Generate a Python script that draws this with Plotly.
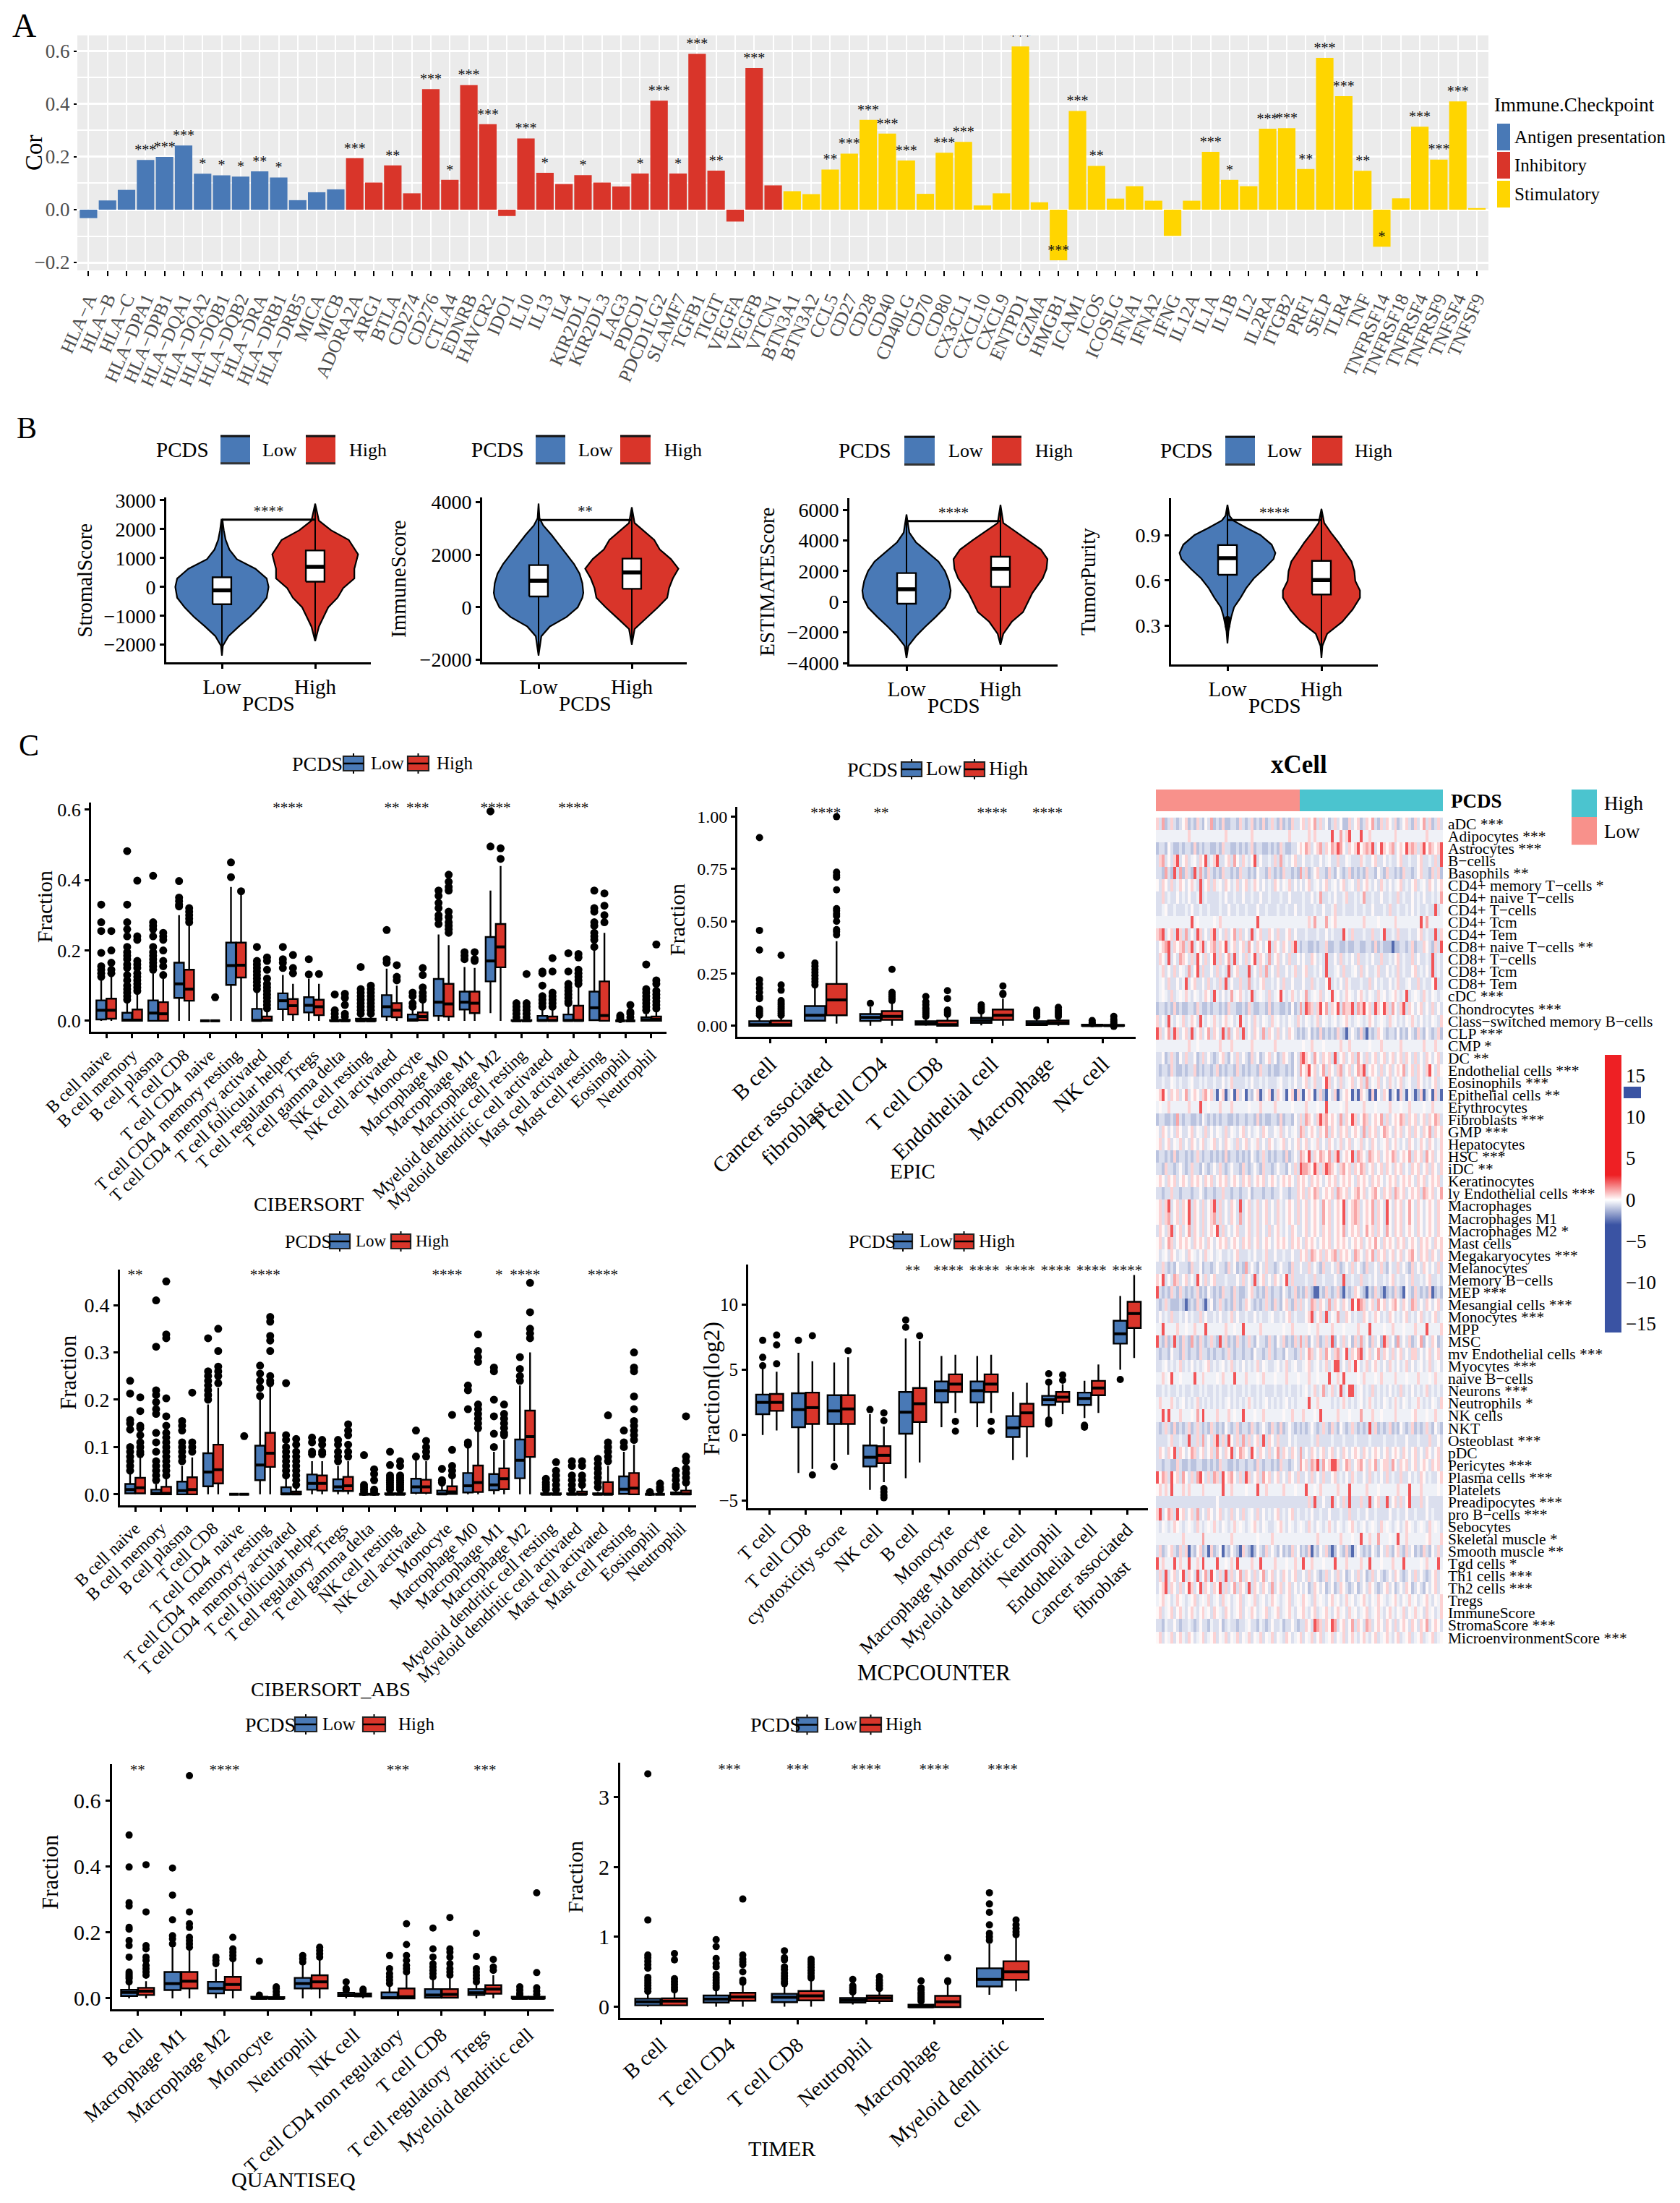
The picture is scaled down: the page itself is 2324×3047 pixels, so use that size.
import plotly.graph_objects as go

W, H = 2324, 3047
FONT = "Liberation Serif"
BLUE, RED, GOLD = "#4979b6", "#d9352a", "#ffd500"

# ---------------------------------------------------------------- panel A data
A_GENES = ["HLA−A","HLA−B","HLA−C","HLA−DPA1","HLA−DPB1","HLA−DQA1","HLA−DQA2","HLA−DQB1","HLA−DQB2","HLA−DRA","HLA−DRB1","HLA−DRB5","MICA","MICB",
 "ADORA2A","ARG1","BTLA","CD274","CD276","CTLA4","EDNRB","HAVCR2","IDO1","IL10","IL13","IL4","KIR2DL1","KIR2DL3","LAG3","PDCD1","PDCD1LG2","SLAMF7","TGFB1","TIGIT","VEGFA","VEGFB","VTCN1",
 "BTN3A1","BTN3A2","CCL5","CD27","CD28","CD40","CD40LG","CD70","CD80","CX3CL1","CXCL10","CXCL9","ENTPD1","GZMA","HMGB1","ICAM1","ICOS","ICOSLG","IFNA1","IFNA2","IFNG","IL12A","IL1A","IL1B","IL2","IL2RA","ITGB2","PRF1","SELP","TLR4","TNF","TNFRSF14","TNFRSF18","TNFRSF4","TNFRSF9","TNFSF4","TNFSF9"]
A_VALUES = [-0.032,0.035,0.075,0.188,0.200,0.243,0.136,0.130,0.125,0.145,0.122,0.036,0.066,0.077,
 0.195,0.103,0.168,0.062,0.457,0.113,0.472,0.324,-0.024,0.270,0.140,0.097,0.131,0.103,0.088,0.137,0.413,0.137,0.590,0.148,-0.045,0.537,0.092,
 0.070,0.059,0.152,0.212,0.340,0.288,0.186,0.060,0.216,0.257,0.016,0.062,0.618,0.028,-0.192,0.374,0.166,0.042,0.089,0.034,-0.099,0.034,0.219,0.113,0.089,0.307,0.309,0.154,0.575,0.430,0.147,-0.140,0.043,0.314,0.190,0.410,0.006]
A_STARS = ["","","","***","***","***","*","*","*","**","*","","","",
 "***","","**","","***","*","***","***","","***","*","","*","","","*","***","*","***","**","","***","",
 "","","**","***","***","***","***","","***","***","","","***","","***","***","**","","","","","","***","*","","***","***","**","***","***","**","*","","***","***","***",""]
A_GROUP_SIZES = [14, 23, 37]
A_GROUP_NAMES = ["Antigen presentation", "Inhibitory", "Stimulatory"]

# ---------------------------------------------------------------- panel B data (violin outline: value, half width in category units)
SV_L_Y = [-2375,-2040,-1708,-1375,-1040,-708,-375,0,290,625,958,1290,1625,1958,2330]
SV_L_W = [0,.01,.07,.18,.30,.40,.48,.50,.48,.36,.16,.08,.04,.02,.005]
SV_H_Y = [-1875,-1375,-1040,-708,-375,-42,290,625,1125,1625,1958,2290,2875]
SV_H_W = [0,.04,.09,.14,.24,.30,.42,.42,.46,.36,.17,.04,0]
SV_BOX = [[-600,-120,330],[180,690,1260]]
IM_L_Y = [-1835,-1100,-734,-367,0,367,550,917,1284,1651,2018,2385,2752,3119,3394,3945]
IM_L_W = [0,.03,.12,.30,.42,.47,.48,.47,.44,.38,.30,.22,.14,.05,.01,0]
IM_H_Y = [-1422,-826,-459,0,367,734,1101,1468,1835,2202,2569,2936,3211,3807]
IM_H_W = [0,.03,.14,.28,.38,.40,.44,.50,.42,.30,.24,.12,.03,0]
IM_BOX = [[413,1009,1606],[706,1330,1853]]
ES_L_Y = [-3669,-2882,-2252,-1622,-992,-362,268,740,1370,2000,2630,3260,3890,4520,5701]
ES_L_W = [0,.02,.10,.20,.31,.41,.46,.47,.45,.41,.34,.22,.10,.03,0]
ES_H_Y = [-2803,-2094,-1307,-677,-47,583,1528,2157,2787,3417,4047,4677,5150,6331]
ES_H_W = [0,.03,.12,.24,.29,.34,.45,.49,.50,.43,.29,.14,.03,0]
ES_BOX = [[-126,819,1874],[976,2157,2945]]
TP_L_Y = [.181,.261,.357,.422,.486,.55,.614,.678,.743,.783,.839,.903,.951,1.0,1.032,1.104]
TP_L_W = [0,.01,.04,.07,.14,.20,.28,.39,.49,.51,.47,.35,.20,.06,.02,0]
TP_H_Y = [.085,.165,.245,.325,.406,.486,.534,.598,.662,.727,.791,.855,.919,.983,1.077]
TP_H_W = [0,.01,.06,.22,.33,.41,.41,.36,.35,.32,.25,.18,.10,.03,0]
TP_BOX = [[.638,.749,.836],[.507,.603,.731]]
TP_L_OUT = [.30,.315,.33,.345]

# ---------------------------------------------------------------- panel C box data: [lower, q1, median, q3, upper]
CIB_CATS = ["B cell naive","B cell memory","B cell plasma","T cell CD8","T cell CD4\u00a0 naive","T cell CD4\u00a0 memory resting","T cell CD4\u00a0 memory activated","T cell follicular helper","T cell regulatory\u00a0 Tregs","T cell gamma delta","NK cell resting","NK cell activated","Monocyte","Macrophage M0","Macrophage M1","Macrophage M2","Myeloid dendritic cell resting","Myeloid dendritic cell activated","Mast cell activated","Mast cell resting","Eosinophil","Neutrophil"]
CIB_LOW = [[0,.004,.03,.058,.118],[0,0,.002,.023,.055],[0,0,.022,.058,.135],[0,.065,.105,.165,.30],[0,0,0,0,0],[0,.102,.157,.222,.38],[0,0,.001,.034,.08],[0,.033,.057,.078,.13],[0,.024,.044,.067,.12],[0,0,0,.002,.005],[0,0,0,.006,.015],[0,.012,.04,.073,.148],[0,0,.003,.018,.04],[0,.014,.053,.119,.245],[0,.032,.053,.083,.153],[.022,.112,.17,.238,.37],[0,0,0,.002,.004],[0,0,.001,.014,.03],[0,0,.001,.018,.04],[0,.002,.037,.083,.20],[0,0,0,0,0],[0,0,.003,.01,.02]]
CIB_HIGH = [[0,.006,.03,.063,.125],[0,0,.002,.032,.078],[0,0,.02,.053,.12],[0,.057,.09,.145,.27],[0,0,0,0,0],[0,.123,.158,.222,.36],[0,0,.002,.012,.03],[0,.018,.043,.062,.105],[0,.016,.04,.06,.105],[0,0,0,.003,.006],[0,0,0,.006,.015],[0,.01,.03,.05,.10],[0,.002,.012,.024,.05],[0,.012,.048,.105,.215],[0,.022,.05,.083,.15],[0,.152,.21,.275,.44],[0,0,0,.002,.004],[0,0,.001,.012,.03],[0,0,.001,.043,.10],[0,0,.015,.112,.25],[0,0,0,0,.002],[0,0,.004,.012,.025]]
CIB_LOW_OUT = [[.33,.28,.255,.193,.155,.145,.135,.125],[.482,.33,.28,.26,.24,.21,.195,.185,.175,.16,.15,.13,.115,.10,.09,.08,.07,.06],[.412,.28,.27,.26,.24,.21,.195,.185,.175,.165,.155,.145],[.397,.35,.34,.33,.325],[],[.45,.408],[.21,.17,.16,.15,.14,.13,.12,.11,.10,.09],[.21,.175,.165,.15],[.175,.132],[.075,.03,.02,.01],[.153,.09,.08,.07,.06,.05,.04,.03,.02],[.258,.175,.165],[.08,.07,.05,.04],[.37,.355,.335,.32,.30,.29,.275],[.195,.185,.175],[.595,.495],[.05,.04,.03,.02,.01],[.14,.135,.10,.07,.06,.05,.04],[.192,.14,.105,.095,.085,.075,.065,.055,.05],[.37,.32,.31,.28,.27,.25,.24,.23,.21],[.015,.01,.005],[.16,.09,.08,.07,.06,.05,.04,.03]]
CIB_HIGH_OUT = [[.255,.20,.165,.145,.135],[.398,.24,.23,.17,.16,.15,.135,.125,.115,.105,.095,.085],[.25,.24,.23,.20,.17,.155,.13],[.32,.31,.30,.29,.28],[.067],[.368],[.18,.17,.145,.12,.105,.095,.085,.075,.065,.055,.045,.035],[.187,.15,.135],[.133],[.077,.065,.045,.02,.012],[.10,.09,.08,.07,.06,.05,.04,.03,.02],[.158,.125,.115],[.15,.13,.095,.08,.07,.06],[.415,.395,.38,.37,.31,.295,.28,.27,.26,.25],[.195,.175,.17],[.49,.46],[.133,.05,.04,.03,.02,.01],[.178,.14,.08,.07,.06,.05,.04],[.19,.18,.145,.135,.125,.115,.105],[.362,.327,.30,.28],[.045,.025,.02,.01],[.217,.115,.105,.085,.075,.065,.055,.045,.035]]
CIB_STAR_AT = [7,11,12,15,18]
CIB_STAR_TXT = ["****","**","***","****","****"]

NB = "\u00a0"
EPIC_CATS = ["B cell","Cancer associated<br>fibroblast"+NB*6,"T cell CD4","T cell CD8","Endothelial cell","Macrophage","NK cell"]
EPIC_LOW = [[0,0,.005,.022,.04],[.02,.024,.05,.094,.18],[0,.023,.04,.056,.09],[0,.005,.012,.022,.035],[.002,.014,.025,.038,.06],[.002,.003,.01,.022,.035],[0,0,.001,.005,.007]]
EPIC_HIGH = [[0,0,.005,.024,.045],[.01,.05,.124,.20,.405],[0,.028,.045,.07,.11],[0,0,.005,.024,.045],[0,.028,.05,.078,.13],[0,.008,.014,.025,.04],[0,0,.001,.004,.006]]
EPIC_LOW_OUT = [[.90,.456,.362,.22,.20,.18,.16,.14,.13,.08,.07,.06,.05],[.30,.285,.27,.255,.24,.225,.21,.195],[.107],[.14,.115,.10,.085,.075,.065,.055,.045],[.10,.09,.08,.07],[.075,.065,.055,.045],[.025,.015,.01]]
EPIC_HIGH_OUT = [[.337,.195,.17,.12,.11,.10,.09,.08,.07,.06,.05],[1.0,.735,.72,.71,.65,.56,.55,.535,.525,.50,.46,.45,.435],[.27,.16,.15,.14,.13,.12],[.168,.13,.075,.065,.055],[.19,.155,.15],[.088,.075,.065,.055,.045],[.045,.03,.02,.01,-.003]]
EPIC_STAR_AT = [1,2,4,5]
EPIC_STAR_TXT = ["****","**","****","****"]

ABS_CATS = CIB_CATS
ABS_LOW = [[0,.002,.01,.022,.045],[0,0,.002,.01,.022],[0,0,.008,.027,.06],[0,.017,.047,.087,.19],[0,0,0,0,0],[0,.03,.062,.103,.20],[0,0,.001,.015,.035],[0,.01,.023,.042,.07],[0,.007,.016,.032,.06],[0,0,0,0,.001],[0,0,0,.002,.005],[0,.003,.016,.033,.075],[0,0,.001,.008,.02],[0,.004,.018,.045,.10],[0,.009,.02,.043,.09],[0,.034,.072,.116,.23],[0,0,0,.002,.004],[0,0,0,.002,.005],[0,0,0,.002,.005],[0,.001,.011,.038,.09],[0,0,0,0,0],[0,0,.001,.004,.01]]
ABS_HIGH = [[0,.002,.014,.035,.078],[0,0,.002,.016,.035],[0,0,.01,.036,.078],[0,.023,.052,.105,.225],[0,0,0,0,0],[0,.058,.087,.13,.23],[0,0,.001,.006,.015],[0,.008,.023,.04,.07],[0,.007,.018,.037,.07],[0,0,0,.001,.002],[0,0,0,.002,.005],[0,.003,.016,.031,.07],[0,.001,.005,.017,.035],[0,.005,.025,.061,.135],[0,.011,.033,.055,.115],[0,.079,.122,.177,.30],[0,0,0,.002,.004],[0,0,0,.006,.015],[0,0,0,.026,.06],[0,0,.013,.045,.105],[0,0,0,0,0],[0,0,.001,.008,.018]]
ABS_LOW_OUT = [[.24,.213,.157,.15,.137,.10,.09,.08,.07,.06,.05],[.41,.312,.22,.21,.195,.18,.17,.13,.11,.09,.07,.06,.05,.04,.03],[.155,.145,.135,.11,.10,.09,.08,.07],[.33,.26,.25,.24,.23,.22,.21,.20],[],[.272,.255,.24,.225,.208],[.235,.125,.115,.10,.09,.08,.07,.06,.05,.04],[.12,.11,.09,.085],[.115,.105,.09,.08,.07],[.083,.02,.015,.01,.005],[.09,.062,.04,.035,.03,.025,.02,.015,.01],[.135,.08],[.054,.03,.025],[.23,.22,.18,.11,.105],[.268,.26,.20,.165,.128,.10],[.29,.265,.25,.24],[.033,.025,.02,.015,.01],[.07,.06,.04,.03,.02,.01],[.075,.065,.055,.045,.035,.025,.015],[.135,.11,.10],[.005],[.05,.04,.03,.02,.015]]
ABS_HIGH_OUT = [[.205,.176,.145,.14,.125,.11,.10,.09,.085],[.45,.338,.33,.203,.165,.145,.13,.12,.11,.10,.09,.08,.07,.06,.05,.04],[.215,.11,.10,.09],[.35,.303,.27,.26,.25,.235],[.123],[.375,.365,.335,.325,.303,.25,.24,.235],[.117,.105,.09,.08,.07,.06,.05,.04,.03,.02],[.115,.105,.09,.085],[.148,.135,.125,.105,.09,.08],[.053,.043,.03,.01,.005],[.07,.06,.04,.035,.03,.025,.02,.015,.01],[.113,.10,.09,.08],[.168,.094,.06,.05,.04],[.338,.303,.29,.28,.19,.18,.17,.16,.15,.14],[.19,.17,.16,.15,.14,.13,.125],[.447,.385,.35,.34,.33],[.068,.05,.04,.03,.02,.01],[.07,.06,.04,.03,.02],[.167,.11,.10,.09,.08,.07],[.30,.268,.26,.207,.18,.155,.145,.135,.125,.115],[.023,.015,.01],[.165,.08,.07,.055,.045,.035,.025]]
ABS_STAR_AT = [0,5,12,14,15,18]
ABS_STAR_TXT = ["**","****","****","*","****","****"]

MCP_CATS = ["T cell","T cell CD8","cytotoxicity score","NK cell","B cell","Monocyte","Macrophage Monocyte","Myeloid dendritic cell","Neutrophil","Endothelial cell","Cancer associated<br>fibroblast"+NB*6]
MCP_LOW = [[0,1.6,2.5,3.1,5.1],[-2.9,.6,1.95,3.2,6.3],[-2,.85,1.85,3.05,5.55],[-4.2,-2.4,-1.7,-.8,1.6],[-3.3,.1,1.75,3.3,7.4],[.6,2.5,3.4,4.1,6.05],[.6,2.5,3.4,4.1,6.05],[-1.9,-.15,.55,1.45,3.3],[1.4,2.3,2.7,3.0,4.0],[1.3,2.3,2.8,3.25,4.15],[5.0,7.0,7.75,8.75,10.65]]
MCP_HIGH = [[.35,1.85,2.5,3.15,4.85],[-2.6,.85,2.1,3.25,5.65],[-1.5,.85,2.0,3.05,5.95],[-3.6,-2.15,-1.55,-.85,.65],[-2.1,1.0,2.4,3.6,7.2],[1.7,3.3,3.9,4.65,6.15],[1.7,3.3,3.9,4.65,6.15],[-1.7,.65,1.7,2.4,4.0],[1.6,2.55,2.9,3.3,3.9],[1.7,3.05,3.6,4.15,5.4],[5.9,8.2,9.3,10.2,12.25]]
MCP_LOW_OUT = [[7.25,5.95,5.3],[7.25],[-2.4],[1.95],[8.8,8.25],[],[],[],[4.7,4.05,1.15,1.0,.85],[.75,.6],[4.25]]
MCP_HIGH_OUT = [[7.65,6.9,5.45],[7.6,-3.05],[6.45],[1.7,1.1,-4.1,-4.35,-4.6,-4.8],[7.6],[1.05,.3],[1.05,.3],[],[4.6,4.2],[],[]]
MCP_STAR_AT = [4,5,6,7,8,9,10]
MCP_STAR_TXT = ["**","****","****","****","****","****","****"]

QS_CATS = ["B cell","Macrophage M1","Macrophage M2","Monocyte","Neutrophil","NK cell","T cell CD4 non regulatory","T cell CD8","T cell regulatory\u00a0 Tregs","Myeloid dendritic cell"]
QS_LOW = [[0,.007,.018,.026,.042],[0,.025,.045,.08,.155],[0,.015,.03,.05,.09],[0,0,0,.005,.008],[0,.03,.045,.062,.105],[0,.007,.01,.017,.02],[0,0,.002,.018,.04],[0,.002,.01,.028,.06],[0,.01,.017,.028,.045],[0,0,0,.005,.006]]
QS_HIGH = [[0,.01,.022,.032,.052],[0,.03,.052,.08,.145],[0,.025,.042,.065,.115],[0,0,0,.004,.006],[0,.03,.05,.07,.12],[0,.006,.01,.015,.02],[0,0,.005,.03,.07],[0,.002,.012,.028,.06],[0,.014,.028,.04,.07],[0,0,0,.005,.006]]
QS_LOW_OUT = [[.495,.398,.29,.28,.215,.21,.175,.16,.125,.08,.075,.07,.065,.06,.05],[.395,.313,.238,.19,.18,.165],[.125,.115,.105],[.113,.01],[.13,.12,.11],[.05,.03,.025],[.13,.09,.075,.065,.055,.045],[.213,.15,.125,.105,.095,.085,.075,.065],[.197,.127,.09,.08,.07,.06,.05],[.035,.025,.015,.01]]
QS_HIGH_OUT = [[.405,.262,.16,.15,.125,.115,.10,.09,.08,.07],[.675,.262,.226,.215,.185,.175,.165,.155],[.185,.15,.14,.13,.12],[.035,.03,.02,.01],[.155,.145,.135,.125],[.028,.022],[.226,.163,.13,.115,.10,.09,.08],[.245,.15,.14,.125,.105,.09,.08,.07],[.118,.095,.085],[.32,.078,.032,.022,.012]]
QS_STAR_AT = [0,2,6,8]
QS_STAR_TXT = ["**","****","***","***"]

TM_CATS = ["B cell","T cell CD4","T cell CD8","Neutrophil","Macrophage","Myeloid dendritic<br>cell"+NB*12]
TM_LOW = [[0,.02,.07,.115,.20],[0,.06,.11,.16,.25],[0,.065,.135,.185,.32],[.03,.06,.09,.125,.18],[-.01,-.005,0,.03,.06],[.17,.29,.39,.55,.90]]
TM_HIGH = [[.01,.02,.08,.12,.21],[0,.085,.14,.20,.33],[0,.09,.155,.225,.39],[.04,.08,.125,.16,.23],[-.01,-.005,.07,.155,.34],[.22,.385,.50,.65,1.02]]
TM_LOW_OUT = [[3.33,1.24,.74,.70,.65,.60,.55,.42,.38,.34,.30,.26,.22],[.96,.86,.69,.62,.57,.46,.42,.38,.34,.30,.27],[.80,.70,.67,.57,.53,.48,.44,.40,.36,.33],[.39,.30,.27,.24,.21],[.37,.27,.24,.20,.17,.14,.11,.08],[1.63,1.47,1.35,1.17,1.05,1.0,.95]]
TM_HIGH_OUT = [[.76,.67,.40,.36,.32,.28,.24],[1.54,.74,.68,.64,.60,.50,.38,.35],[.68,.64,.60,.56,.52,.48,.44,.41],[.43,.38,.34,.30,.26],[.70,.37,.36],[1.24,1.17,1.12,1.07,1.03]]
TM_STAR_AT = [1,2,3,4,5]
TM_STAR_TXT = ["***","***","****","****","****"]

# ---------------------------------------------------------------- xCell heat map.
# Hand-read, coarse estimates of each row's stripes (100 columns: 50 Low then 50 High).
# . pale  a/b/c light-to-strong blue   - near white  1/2/3 light-to-strong red
HEAT_LABELS = ["aDC ***","Adipocytes ***","Astrocytes ***","B−cells","Basophils **","CD4+ memory T−cells *","CD4+ naive T−cells","CD4+ T−cells","CD4+ Tcm","CD4+ Tem","CD8+ naive T−cells **","CD8+ T−cells","CD8+ Tcm","CD8+ Tem","cDC ***","Chondrocytes ***","Class−switched memory B−cells","CLP ***","CMP *","DC **","Endothelial cells ***","Eosinophils ***","Epithelial cells **","Erythrocytes","Fibroblasts ***","GMP ***","Hepatocytes","HSC ***","iDC **","Keratinocytes","ly Endothelial cells ***","Macrophages","Macrophages M1","Macrophages M2 *","Mast cells","Megakaryocytes ***","Melanocytes","Memory B−cells","MEP ***","Mesangial cells ***","Monocytes ***","MPP","MSC","mv Endothelial cells ***","Myocytes ***","naive B−cells","Neurons ***","Neutrophils *","NK cells","NKT","Osteoblast ***","pDC","Pericytes ***","Plasma cells ***","Platelets","Preadipocytes ***","pro B−cells ***","Sebocytes","Skeletal muscle *","Smooth muscle **","Tgd cells *","Th1 cells ***","Th2 cells ***","Tregs","ImmuneScore","StromaScore ***","MicroenvironmentScore ***"]
HEAT_ROWS = [
"1a2ba1aba- 1bab1ab-a2 bab1bbaab1 aba1bab1ba 1ab1bab1aa -1a1-2a1a- ba1a-bb1a- 1ba1-2ab1a 1-a1ba-1ab 1a-2a1ba1a",
".......... .1........ ....1..... ...1...... ......1... ...1.1.... .3..2.13.. .3..1..... ...1...... ....1.....",
"baab-abbab aab1babaab bab1aabbab aba1baabba bab1abbaa- 1-21a-12a1 -2132-a1-1 3-1213a-31 -12a-1-312 1a13-21-13",
"a12a-a13a- 1a.-a1-3a. 13aa-1a2-a 1.a-3a-aa. a1a2a.a-1a a-aa.aa-a. -aa1aa-.aa a1.aa-1aa- a.aa-1aa.a a-1aa.a1a3",
"aab2ab3a2b 1ab3a2ab1a bab1aabab1 aabab-aab1 abab1aabab 2a1ba-1aab 1ab-aba1ba bab1aab-ab 1aabab1aab a-1aab1a1b",
"-a1-a1a.1- a-1.a3a-1a 1.-a1-a.1a -1a.1-a-a. a1-a-.1a-a -a-1a.-a-1 a.-a-1a.-a 1a-1.a-a1. a-a.-1a.a- 1a.-a1-a-1",
"aa1a.aa-a. a-aa.3a.aa aa.a-aa.aa -aa.aa-aa. aaa.aa-aaa a.aa-a.2aa .a-aa.1aa. a.2aa.aa-a a.aa1a.aa- a.a-aa.a.2",
"aa.-aa.aaa .a-aa.aa.a aa.aa-aa.a a.aaa-aa.a aa.aa.aa-a a.aaa.aa-a a.1aa.aaa. aa.aa-aaa. a1aa.aa.a- a.aa.aa3a.",
".......... ..3.-..... -.1....... .....3.... .......... ...1.2...2 .-1....... ..1....-.. ...1...... ..3.2.....",
"123a-1a31a 2a-a31a-a1 3a-a1a-2a1 a-a3a-1aa1 -a1aa-1a-a aa.aaa.aa- a.aaa3.a1a aa.aa1aa.3 aa.a1aaa.a a-1a.aa3a1",
"a-123a1-12 a13a-13a-1 2a1-3a-1a- 1a2-a1-a-3 a1-a1-a13a baabbabaa1 bbaabbabba abbaab1bab bbcbbaaba1 baa1-ab1a3",
"a1-a3a-a21 -a1a3-a1a- 3a1a-2a3a- a1a-3a1-a2 a-1a-a1aa- a-aa1-a.a3 aa-a1a.a-a 1aa.a-aa1a a.a-1a.aa1 a-aa.a3a.a",
"a.1a-a1a-. a2a-3a1aa- a1a.a3a-1a aa3a-a1a2a -a1aa-a.1a a-1aa.a-a3 aa.-a1aa.- a1a-aa.1aa -a.a1a.aa- 1a.a-a3a.a",
"a.-a1aa-a. 3a-1aa-a1a .a1a3a-aa1 aa2a.a-1aa .a-a1aa-aa a-aa1a.aa- 3a.a-a1.aa a.aa1a-a.a a-a.1aa.-a a1a.aa-3aa",
"a.-.a1a.-. 1.a-.a.1-a 3.a-a.2.-1 .a.3a.-.a1 a.-3.a.1.a -.2a.-.1a- .3.-a.1-.a -1.a-.a1.- a.-1.a.3a. -.a1.a-.a.",
"baabab1bab baab1abbab aabab1aabb ab1abbaab1 baabbab-ba 2a321a13-2 a1-3a2113a 213-1a31-3 1a2-a13a1- a-1a-a1a-a",
"1a-a3.a-.1 a.1-a3.a-. 1.a-1.-a.3 .a-a1.a-.a 1.-a.a-.a1 .a-.a.1a-. a.-a.-1.a. -.a.1-a.-. a1.-a.a-.1 .a-a.a-.a1",
"31a-2a31a- 1a3a-1a-2a 1-a3a2a-1a 3a-a1-a2a1 -a1a-a1-ab aba-bab1ba bab1abca-a b1bcaba1-a baab-bab-a b1ab-aba1b",
".......... .1..-..... ..1...1... ...1...... .1........ .-..1...-. ....1..1.. ....-...1. .....1.... ...1...1..",
"aa-ba1ab-a 1aa-ba1a-a ba-1ab-a1a -ab1a-ba-1 a-ba1-ab-a 231-a2-a1- 1a3a-1a-1a 2-a1a-1a-1 a-1a-1a1-a 1a-a1-a-1a",
"abaab1abba baa1babaab a1babaab1a babaab1aab abbaabab-a 2-13-1a-2a 1-a12a-1a- 213a-1-a1a -1a-1-2a-1 a1-a13-a1-",
"aa.aa-.a.a a.-aa.a.aa .aa-a.1aaa a.a-aa.a.a aa.-aa.a-a a-1a.1aa-3 1a-a1a.-1a -1a2a-.1a- a1.a-1a.-a a1-a.a-1a.",
"-13-a1-1a- 2a-1-a12-1 ac-1ca-c1a -cab-1ca-1 ca1-ac-1c1 ac-1-ca1bc -a1ca-1-ca c1-ac1c-a1 -ca-c1ac-a cb1ca-c1ac",
".-..1..... .1...3..-. ..1...1... ..-...1... .1.....-.. ..1...-..3 ....-.1... ..1...-... .1...-..1. ...-..1...",
"baabbab2ab aabbab-aba babaabbaba abaab1babb aab1baab-a 1a21-a1312 -1-a2a1-31 a-21a-1-2a 1a-1-21a1- 1a-1a1-21a",
"-a1-a-a1-a a-1a-.a1a- a-.a1a-.a- 1a-a.-a1-a a-.1a-a.-a 21a-1-a1-2 a1-a1-1a-1 -a2a1-1a-2 1-a1-1a-1a 1-a1-2a1-1",
"-1a-1a-.1a -a1-a-1a.- 1a-a1-.a1a -1a-.1a-a1 -a.-1a-a-1 a-1a-.1a-a 1-a.1a-1a- .1a-a1-a.- 1a-1.a-a1- a.1-a1-a.1",
"baabab1baa baba1abaab abab1baaba bab-aba1ab abaab1ba-a 21-3a1-21- 2a13a-1-3a 21-a21-1a- 1-21a-1-2a 1-1a2-1a-1",
"aab1aaba-a ba1aab-aba -a1aba-aab 1aba-ab1aa ba-aab-a1a 3221-31a13 21-a12-1a1 -21a-1a-1a 1-a1-1a-a1 -1a-1a1-a1",
"-1-a1-1a-1 -a1-1-a1-1 a-1-1a-1-a 1-1a-1-1a- 1-a-1-1-a1 -1-a1-1-a- 1-1a-1-1-a 1-1-a1-1-a -1-1a-1-1- a1-1a-1-1a",
"aabaa1aaba aabaa-abaa baa1aabaab aa-baaabaa baa-aabaa1 -1a1-21a-1 -1a21-1a-1 2-1a-12-a1 -1a21-1a-1 -1a21-1a-2",
"-1a13a-1a1 -3a1-a1a-1 3a1a-a1-a3 a-1a.1a-1a -a1.a-1-a1 a-1a-1-a2- 1a-1-3a-12 1a-1-2a1-a 3-a1-1a-2- a1-a-1-a1-",
"-1a12a-1a1 -3a1-a1a-1 2a1a-a1-a2 a-1a.1a-1a -a1.a-1-a1 a-1a-1-a2- 1a-1-3a-12 1a-1-2a1-a 3-a1-1a-2- a1-a-1-a1-",
"a1-a13a-1a -2a1-a1a-1 -3a1a-a-1a a-1a.1a-a1 a-1.a-a1-a a-1a-1-a1- 1a-1-2a-1- 1a-2-1a1-a 2-a1-1a-1- a1-a-1-a1-",
"-1a-21a-1- 1-a1-1-a1- a-1-1a-1-a 1-1a-1a-1- a-1-1-a1-1 -a1-1-a-1- 1a-1-1-a-1 -1a-1-2-a1 -1-a1-1a-1 -a1-1-a1-1",
"-a.-a1-a.- a1-.a-a1.- a.-aa.a-1a aa.a-aa.1a a-aa.aa-aa 1-1a21-1a1 -12a1-1-a2 1-a1-2a1-1 a-1a-1a-12 -a1-1a1-a1",
"aa1abab-aa ab1aa-baab a-aab1a-ba b2a-ab-a1a aba-aab1aa -aa1a-ab1a a-a1ba-a1a -ab1aa-a1a b-aa1a-ab1 a-a1-a-a1a",
"1-3a-a21a- 1a-a3-a1a- 1aaa.aaa-a 1a-a3a-1a- a1-a-3a1aa aa.aa1aa.a aa-aa3aa.a a1aa.a-aa. a-1a.aa-a1 aa.a-1aa.a",
"3abab1ab1a baba1bab-a bab1aab1ab ba-1abab1a baab-aba1b ab1abccab1 aba1bcaba1 -abcab1abc bab1abc-ab 1abab1cbab",
"aba1abbbab cbab1abca- ba1abab1ab a1-ababa1a b1ab-1ab1a 1a-a21a1-a 2a1-a1-a3- 321a-1a2-1 a-12-a1-a2 1a-a1-a-1a",
"a-a.a1aa.a -a.aa1a-aa .a-aa.1a-a a.aa-a.aa. -aa.a-1a.a aa-13a-1a3 a-.2aa1-a. aa1-a.1-a. a1-a.a-1a. a-1a.a-1a.",
"..3....1.. -..1...3.. ....1..-.. 3.....1... ....-..1.. ...-..1... .1...-.... 1...3....- ..1...-... 1...3....1",
"3ab1ba3ab1 ab2ab1aba1 ab3a1bab1a ba1ab-aab1 ab-a1bab1a 2a1b-a1ba1 a3b-a1a-b1 a2a-b1a-b3 1a-b2a-a1b a-2b-a1-ba",
"abaab-aab1 abaab1aaba baaba1abaa baab-aaba1 abaab-aaba 1a-21a-1a2 -a12a-3a1- 23a-1a-2a1 -a1a-1a-a1 1a-a-1a-1a",
"aa.-a.a.1a .a-a.a.-1a .a.-a.1a.a -a.a.1a-.a a.-a.1a.-a a.-1a.-a.1 a.33a-a1.3 -a.1a-1.a- a1.a-a.1a- a.-a.1a.-a",
"..1.-3..-. ...3..1... .-.1...3.. .1...-.1.. .-...1...- ...1..-... 3..1.3.... -.1...-.1. ...1...-.. .1...-.1..",
"aa.a.aa.a. aa.aa.a.aa .a.aa.a.aa .a.aa.a.aa a.aa.a.aa. a.-a.1a.2a .1a.3a.33a .-a.a1a.a. a-a.a1a.a- a.a.1a.a.a",
".1...1.a.- a.a.1a.a.a .a.a.-a.a. a.1.a.a.-a .a.a.-a.a. ...3..1... .a.a.1.a.a .-a.1.a.a- .a.1.a-.a. .1.a.a-.a1",
"..3.3...1. ..-.2.3... .1...1.-.. 3...-..1.. ....-..1.. .1...-.3.. ...1...-.. .2...1..-. ...1.....- 1...-..1..",
"aba1ab1bab a1ba1abab1 abab-aba1b aab1aba-ab 1ab1ba-aba baba-aba1a b1ab-aba1a baba3a1bab a1bab-aba1 baba1ab-ab",
"aaaa.1aa.a a3aa1a2a-a 13a1a3-a1a 2a1a-1a3a1 -a1aaa-a.a aaaa.a1aaa a.aaa.aaa. aaaa.aaaa. aaa.aaa-aa a.aaa1aa-a",
"a1-a1-3a1- a-21a-1a-1 a2-a1-3a-2 1-a3-a1-a1 a-2a1-a1-a 2a-a1-a-1a -1a-a1-a-1 -a1-a-1-a- 1a-1-a1-a- 1a-a1-a-1a",
"aabaabb1ab babbaabbab ab1aabbaba abaab1abaa bab1aaba-a 2-1a213a2- 1331a-21a- 12-a1-2a-1 1a2-a1-1a- 1a-1-a1-1a",
"3-21a3-1a2 -a1a23-a1a 21a3-12-a1 a31a-1a2-1 a-1a-a1-a1 aa-a1a-a1a a-1a.a-a1. aa-a1a.a-a 1a.aa1aa-a .a1-a.aa-1",
"-1.1.3...1 .1....1... ...3..1... .-...3..1. ....1...-. ..3..-.1.. ...1...3.. ...1...-.. ....1...3. ..1.....-.",
"aaaaaaaaaa aaaaaaaaaa a-aaaaaaaa aaaaaaaaaa aaaaaaaaaa aaa1a3aa-a a3a-a1a3aa a1aa3a-1aa 3a-1a1a-3a aa1a-aaaaa",
"13a-21a3-1 a-1a2a-a1- a-1a.a1a-a 1a.-a1a-a. a-1a.a-1a. aa.a-aa.aa -aaa.aa1aa .aa-aa.aaa a-aa.aa-aa .aaa-a.aaa",
".a-.a.1-.a .-.a1.a.-. 1.a-.a.1.- .a.-1.a-.a a.-1.a-.a. -.a1.a-.a. 1.a-.a.-1. a.-a.-.a1. -.a.-a.1-. a.-.a1.-.a",
".........1 ......2... ......1... .....-.... 1......... ......1... ....1...-. .3..1..2.. .-..3..1.. ....-1...1",
"a1ba-1ab1a 1cab-1bac1 ba-cab-abc 1abcb-ab1a -ab-bab1a- bab1cab-a1 bcb-ab1bca -abab-ab-a 1ab-1ab1a- bab1ab-a1a",
"3.1...3.1. .3..1.3... .3..-.1.3. ...1..3... .1...-..1. .3..1...-. ..3...1... .1..3...-. ..1...3... ..-.1...3.",
"a1a3a-1a-3 a1-a3a-2a3 -a1a3a1a-2 a1-a1a-2a- 1a-a1-a-1a a-a1a-aba1 a-a1a-ba-a 1a-ba1a-ab a-a1-aba-a 1a-aba-1a-",
"a-13a1-a1a -31a-3a1-a 1-3a1a-2a1 -a3a1-a1-a 2a-1a-1a-a -a-ba1-a-b a-ba1-aba- ba-a1-aba- 1a-ba-a1-b a-ab-a-1a-",
".-1.-a.1-. a.-1a.-.1a .-a1.-a.-1 a.-.1a.-a. 1-.a.-1a.- .1-.a1.-.a -1.-a.1.-a .-1.a-.1-. a.-1.a-.1. -a.-1.a-.1",
"-1a.-1a-1. a-1.a-1.-a 1-.a1-a.-1 a-.1-a.-1a .-1a.-1.a- -1.a-1a.-1 .a-1.-a1.- a.-1a.-1.a -1.a-.1a-. 1.-a1.-a.1",
"aab.aa-aba a.aba-aab. aa-ba.aaba a.-aab.aba -aa.baa-ab aa1-a321a1 -32a-1a-2a 1-a21a-1-a 1-a1a-1-a1 -a1-2a-1-a",
"-1a-.1a-1. a1-a.-1a.- 1a-.1a-.1a -.1a-.1a-. 1a-.a1-a.- 1a-.1a-1a. -1a-.1a-1. a-1.a-1a.- 1.a-1a.-1a .-1a.-1a.-",
]
HEAT_LEVELS = {".":-0.25,"a":-0.55,"b":-1.05,"c":-2.6,"-":0.1,"1":0.6,"2":1.2,"3":2.3}
HEAT_TICKS = [15,10,5,0,-5,-10,-15]

# ---------------------------------------------------------------- helpers
traces, shapes, annots, axes = [], [], [], {}

def px(x): return x / W
def py(y): return 1 - y / H

def note(text, x, y, size, anchor="center", angle=0, color="black", bold=False):
    annots.append(dict(text=("<b>%s</b>" % text) if bold else text, x=px(x), y=py(y), xref="paper", yref="paper",
                       xanchor=anchor, yanchor="middle", textangle=angle, showarrow=False,
                       font=dict(family=FONT, size=size, color=color)))

def rect(x0, y0, x1, y1, fill, line=None, lw=0, layer="above"):
    shapes.append(dict(type="rect", xref="paper", yref="paper", x0=px(x0), x1=px(x1), y0=py(y0), y1=py(y1),
                       fillcolor=fill, layer=layer, line=dict(color=line or fill, width=lw)))

def seg(x0, y0, x1, y1, lw=2, color="black"):
    shapes.append(dict(type="line", xref="paper", yref="paper", x0=px(x0), x1=px(x1), y0=py(y0), y1=py(y1),
                       line=dict(color=color, width=lw)))

def panel(n, x0, x1, ytop, ybot, first, pitch, yr, xvals, xtext, yvals, ytext, xsize, ysize, angle=-45, ticklen=6, standoff=0):
    xr = [(x0 - first) / pitch, (x1 - first) / pitch]
    axes["xaxis%d" % n] = dict(domain=[px(x0), px(x1)], range=xr, anchor="y%d" % n, tickmode="array", tickvals=xvals, ticktext=xtext,
        tickangle=angle, tickfont=dict(family=FONT, size=xsize, color="black"), showgrid=False, zeroline=False, ticklabelstandoff=standoff,
        showline=True, linecolor="black", linewidth=3, ticks="outside", ticklen=ticklen, tickwidth=2.5, tickcolor="black", automargin=False)
    axes["yaxis%d" % n] = dict(domain=[py(ybot), py(ytop)], range=yr, anchor="x%d" % n, tickmode="array", tickvals=yvals, ticktext=ytext,
        tickfont=dict(family=FONT, size=ysize, color="black"), showgrid=False, zeroline=False,
        showline=True, linecolor="black", linewidth=3, ticks="outside", ticklen=ticklen, tickwidth=2.5, tickcolor="black", automargin=False)

STAR_SHIFT = 5  # px: an asterisk sits above the middle of its text line
def star_text(n, xs, txt, glyph_y, size, ytop, ybot, yr, color="#111111"):
    dy = (yr[1] - yr[0]) / (ybot - ytop) * STAR_SHIFT
    ys = [v - dy for v in glyph_y]
    traces.append(go.Scatter(x=xs, y=ys, text=txt, mode="text", textposition="middle center", xaxis="x%d" % n, yaxis="y%d" % n,
                             textfont=dict(family=FONT, size=size, color=color), hoverinfo="skip", showlegend=False))

def medians(n, xs, meds, width, mlw):
    mx, my = [], []
    for x, m in zip(xs, meds):
        mx += [x - width / 2, x + width / 2, None]
        my += [m, m, None]
    traces.append(go.Scatter(x=mx, y=my, mode="lines", line=dict(color="black", width=mlw), xaxis="x%d" % n, yaxis="y%d" % n,
                             hoverinfo="skip", showlegend=False))

def boxes(n, xs, rows, color, width, lw=2.4, mlw=4):
    traces.append(go.Box(x=xs, lowerfence=[r[0] for r in rows], q1=[r[1] for r in rows], median=[r[2] for r in rows],
                         q3=[r[3] for r in rows], upperfence=[r[4] for r in rows], width=width, whiskerwidth=0,
                         fillcolor=color, line=dict(color="black", width=lw), boxpoints=False, xaxis="x%d" % n, yaxis="y%d" % n,
                         hoverinfo="skip", showlegend=False))
    medians(n, xs, [r[2] for r in rows], width, mlw)

def dots(n, xs, lists, size):
    ox, oy = [], []
    for x, vals in zip(xs, lists):
        ox += [x] * len(vals)
        oy += vals
    traces.append(go.Scatter(x=ox, y=oy, mode="markers", marker=dict(color="black", size=size), xaxis="x%d" % n, yaxis="y%d" % n,
                             cliponaxis=False, hoverinfo="skip", showlegend=False))

def box_key(x0, x1, y0, y1, fill):
    mid = (x0 + x1) / 2
    seg(mid, y0 - 4, mid, y1 + 4, 2)
    rect(x0, y0, x1, y1, fill, "#222222", 2.2)
    seg(x0, (y0 + y1) / 2, x1, (y0 + y1) / 2, 2.5)

def box_legend(y, pcds_x, lk, lt, hk, ht, ts, ps):
    note("PCDS", pcds_x, y, ps, "left")
    box_key(lk[0], lk[1], y - 10, y + 10, BLUE)
    note("Low", lt, y - 1, ts, "left")
    box_key(hk[0], hk[1], y - 10, y + 10, RED)
    note("High", ht, y - 1, ts, "left")

def box_panel(n, x0, x1, ytop, ybot, first, pitch, yr, yvals, ytext, cats, low, high, low_out, high_out, star_at, star_txt, star_y,
              xsize, ysize, dot, star_size, bw, angle=-45, standoff=0):
    xs = list(range(len(cats)))
    panel(n, x0, x1, ytop, ybot, first, pitch, yr, xs, cats, yvals, ytext, xsize, ysize, angle=angle, standoff=standoff)
    xl = [i - 0.195 for i in xs]
    xh = [i + 0.195 for i in xs]
    dots(n, xl, low_out, dot)
    dots(n, xh, high_out, dot)
    boxes(n, xl, low, BLUE, bw)
    boxes(n, xh, high, RED, bw)
    star_text(n, star_at, star_txt, [star_y] * len(star_at), star_size, ytop, ybot, yr)

def violin(n, pos, ys, ws, color):
    xv = [pos - w for w in ws] + [pos + w for w in reversed(ws)]
    yv = list(ys) + list(reversed(ys))
    traces.append(go.Scatter(x=xv + xv[:1], y=yv + yv[:1], mode="lines", fill="toself", fillcolor=color, line=dict(color="black", width=2.2),
                             xaxis="x%d" % n, yaxis="y%d" % n, hoverinfo="skip", showlegend=False))

def inner_box(n, pos, lo, q1, med, q3, hi, width=0.2):
    # violin fills are scatter traces, so the inner box must be one too to sit above them
    traces.append(go.Scatter(x=[pos, pos], y=[lo, hi], mode="lines", line=dict(color="black", width=2), xaxis="x%d" % n, yaxis="y%d" % n,
                             hoverinfo="skip", showlegend=False))
    a, b = pos - width / 2, pos + width / 2
    traces.append(go.Scatter(x=[a, b, b, a, a], y=[q1, q1, q3, q3, q1], mode="lines", fill="toself", fillcolor="white",
                             line=dict(color="black", width=2.4), xaxis="x%d" % n, yaxis="y%d" % n, hoverinfo="skip", showlegend=False))
    medians(n, [pos], [med], width, 5.5)

def violin_key(x0, x1, y0, y1, fill):
    rect(x0, y0, x1, y1, fill)
    rect(x0, y0, x1, y0 + 3, "#151515")
    rect(x0, y1 - 3, x1, y1, "#333333")

def violin_panel(n, x0, x1, ytop, ybot, first, pitch, yr, yvals, ytext, ly, lw, hy, hw, box, bracket, star_y, star, title, title_x, title_yc, xtitle_y):
    panel(n, x0, x1, ytop, ybot, first, pitch, yr, [0, 1], ["Low", "High"], yvals, ytext, 29, 28, angle=0)
    violin(n, 0, ly, lw, BLUE)
    violin(n, 1, hy, hw, RED)
    inner_box(n, 0, ly[0], box[0][0], box[0][1], box[0][2], ly[-1])
    inner_box(n, 1, hy[0], box[1][0], box[1][1], box[1][2], hy[-1])
    traces.append(go.Scatter(x=[0, 1], y=[bracket, bracket], mode="lines", line=dict(color="black", width=3), xaxis="x%d" % n, yaxis="y%d" % n,
                             hoverinfo="skip", showlegend=False))
    star_text(n, [0.5], [star], [star_y], 21, ytop, ybot, yr)
    note(title, title_x, title_yc, 29, angle=-90)
    note("PCDS", first + pitch / 2, xtitle_y, 29)

# ---------------------------------------------------------------- panel A
n = 1
A_TOP, A_BOT = 49, 374
A_FIRST, A_PITCH = 122.4, 26.31
A_YR = [-0.23, 0.66]
rect(107, A_TOP, 2059, A_BOT, "#EBEBEB", layer="below")
axes["xaxis1"] = dict(domain=[px(107), px(2059)], range=[(107 - A_FIRST) / A_PITCH, (2059 - A_FIRST) / A_PITCH], anchor="y1",
    tickmode="array", tickvals=list(range(len(A_GENES))), ticktext=A_GENES, tickangle=-66, ticklabelstandoff=6,
    tickfont=dict(family=FONT, size=26, color="#4D4D4D"), showgrid=True, gridcolor="white", gridwidth=1.6, zeroline=False, showline=False,
    ticks="outside", ticklen=7, tickwidth=2, tickcolor="black", automargin=False)
axes["yaxis1"] = dict(domain=[py(A_BOT), py(A_TOP)], range=A_YR, anchor="x1", tickmode="array", tickvals=[-0.2, 0, 0.2, 0.4, 0.6],
    ticktext=["−0.2", "0.0", "0.2", "0.4", "0.6"], tickfont=dict(family=FONT, size=27, color="#4D4D4D"), showgrid=True, gridcolor="white", gridwidth=3,
    minor=dict(tickvals=[-0.1, 0.1, 0.3, 0.5], showgrid=True, gridcolor="white", gridwidth=1.5, ticks=""), zeroline=False, showline=False,
    ticks="outside", ticklen=4, tickwidth=2, tickcolor="black", automargin=False)
start = 0
for size, color in zip(A_GROUP_SIZES, [BLUE, RED, GOLD]):
    idx = list(range(start, start + size))
    traces.append(go.Bar(x=idx, y=A_VALUES[start:start + size], width=0.92, marker=dict(color=color, line=dict(width=0)),
                         xaxis="x1", yaxis="y1", hoverinfo="skip", showlegend=False))
    start += size
star_x = [i for i, s in enumerate(A_STARS) if s]
star_text(1, star_x, [A_STARS[i] for i in star_x], [A_VALUES[i] + 0.047 for i in star_x], 20, A_TOP, A_BOT, A_YR)
note("Cor", 47, 211, 33, angle=-90)
note("Immune.Checkpoint", 2065, 145, 27, "left")
for (y0, y1), c, name in zip([(171, 208), (210, 247), (250, 287)], [BLUE, RED, GOLD], A_GROUP_NAMES):
    rect(2071, y0, 2089, y1, c)
    note(name, 2093, (y0 + y1) / 2, 25, "left")
note("A", 33, 36, 46)
note("B", 37, 592, 42)
note("C", 40, 1031, 42)

# ---------------------------------------------------------------- panel B
violin_panel(2, 230, 513, 688, 916.3, 307, 129, [-2616, 3094], [-2000,-1000,0,1000,2000,3000], ["−2000","−1000","0","1000","2000","3000"],
             SV_L_Y, SV_L_W, SV_H_Y, SV_H_W, SV_BOX, 2325, 2708, "****", "StromalScore", 117, 802.7, 973.3)
violin_panel(3, 667, 950, 688, 916.3, 745, 129, [-2100, 4183], [-2000,0,2000,4000], ["−2000","0","2000","4000"],
             IM_L_Y, IM_L_W, IM_H_Y, IM_H_W, IM_BOX, 3321, 3743, "**", "ImmuneScore", 551, 801, 973.3)
violin_panel(4, 1175, 1463, 689.3, 918.7, 1254, 130, [-4079, 6756], [-4000,-2000,0,2000,4000,6000], ["−4000","−2000","0","2000","4000","6000"],
             ES_L_Y, ES_L_W, ES_H_Y, ES_H_W, ES_BOX, 5275, 5984, "****", "ESTIMATEScore", 1061, 804.7, 976)
violin_panel(5, 1620, 1906, 689.3, 918.7, 1698, 130, [0.043, 1.147], [.3,.6,.9], ["0.3","0.6","0.9"],
             TP_L_Y, TP_L_W, TP_H_Y, TP_H_W, TP_BOX, 1.003, 1.069, "****", "TumorPurity", 1505, 804, 976)
dots(5, [0] * len(TP_L_OUT), [[v] for v in TP_L_OUT], 8)
for yc, y0, y1, pc, lk, lt, hk, ht in [
        (622.3, 601.7, 642.3, 214, (305, 346), 361, (423, 464), 481),
        (622.3, 601.7, 642.3, 650, (741, 782), 798, (858, 900), 917),
        (623.3, 602.7, 644, 1158, (1251, 1293), 1310, (1372, 1413), 1430),
        (623.3, 602.7, 644, 1603, (1695, 1736), 1751, (1815, 1857), 1872)]:
    note("PCDS", pc, yc, 29, "left")
    violin_key(lk[0], lk[1], y0, y1, BLUE)
    note("Low", lt, yc, 26, "left")
    violin_key(hk[0], hk[1], y0, y1, RED)
    note("High", ht, yc, 26, "left")

# ---------------------------------------------------------------- panel C box plots
box_panel(6, 126, 922, 1110, 1427, 147, 35.9, [-0.031, 0.62], [0,.2,.4,.6], ["0.0","0.2","0.4","0.6"], CIB_CATS, CIB_LOW, CIB_HIGH, CIB_LOW_OUT, CIB_HIGH_OUT,
          CIB_STAR_AT, CIB_STAR_TXT, .612, 24, 26, 11, 21, .37, angle=-44)
note("Fraction", 61, 1254, 30, angle=-90)
note("CIBERSORT", 427, 1665, 28)
box_legend(1056, 402, (475, 503), 511, (564, 593), 602, 25, 28)

box_panel(7, 1020, 1571, 1116, 1433.5, 1065.6, 76.7, [-0.051, 1.047], [0,.25,.5,.75,1], ["0.00","0.25","0.50","0.75","1.00"], EPIC_CATS, EPIC_LOW, EPIC_HIGH, EPIC_LOW_OUT, EPIC_HIGH_OUT,
          EPIC_STAR_AT, EPIC_STAR_TXT, 1.032, 30, 24, 10, 21, .37, angle=-44)
note("Fraction", 936, 1272, 30, angle=-90)
note("EPIC", 1262, 1620, 29)
box_legend(1064, 1170, (1247, 1275), 1279, (1334, 1362), 1366, 27, 28)

box_panel(8, 166, 963, 1756, 2081.6, 187, 35.95, [-0.0225, 0.475], [0,.1,.2,.3,.4], ["0.0","0.1","0.2","0.3","0.4"], ABS_CATS, ABS_LOW, ABS_HIGH, ABS_LOW_OUT, ABS_HIGH_OUT,
          ABS_STAR_AT, ABS_STAR_TXT, .469, 24, 28, 11, 21, .37, angle=-44)
note("Fraction", 95, 1898, 31, angle=-90)
note("CIBERSORT_ABS", 457, 2336, 28)
box_legend(1717, 392, (456, 484), 490, (541, 568), 572.5, 23, 26)

box_panel(9, 1035, 1588, 1748.5, 2085.5, 1064.7, 49.46, [-5.57, 13.08], [-5,0,5,10], ["−5","0","5","10"], MCP_CATS, MCP_LOW, MCP_HIGH, MCP_LOW_OUT, MCP_HIGH_OUT,
          MCP_STAR_AT, MCP_STAR_TXT, 12.8, 26, 25, 10, 21, .37, angle=-45, standoff=-4)
note("Fraction(log2)", 984, 1921, 32, angle=-90)
note("MCPCOUNTER", 1292, 2313.6, 31)
box_legend(1717, 1172, (1236, 1262), 1270, (1320, 1347), 1352, 25, 26)

box_panel(10, 154.6, 766, 2440, 2779, 190.3, 60.05, [-0.033, 0.71], [0,.2,.4,.6], ["0.0","0.2","0.4","0.6"], QS_CATS, QS_LOW, QS_HIGH, QS_LOW_OUT, QS_HIGH_OUT,
          QS_STAR_AT, QS_STAR_TXT, .70, 27, 30, 10, 21, .37, angle=-42)
note("Fraction", 69, 2589, 31, angle=-90)
note("QUANTISEQ", 405.6, 3014, 30)
box_legend(2385, 337, (408, 438), 444, (502, 533), 549, 25, 28)

box_panel(11, 858, 1444, 2438, 2791, 914.6, 94.5, [-0.16, 3.49], [0,1,2,3], ["0","1","2","3"], TM_CATS, TM_LOW, TM_HIGH, TM_LOW_OUT, TM_HIGH_OUT,
          TM_STAR_AT, TM_STAR_TXT, 3.43, 29, 30, 10, 21, .37, angle=-42)
note("Fraction", 795, 2596, 30, angle=-90)
note("TIMER", 1081, 2971, 30)
box_legend(2385.5, 1035.5, (1102, 1131), 1137.5, (1190, 1219), 1223, 25, 28)

# ---------------------------------------------------------------- xCell heat map
HEAT_MIN, HEAT_MAX = -16, 17.5
def norm(v): return (v - HEAT_MIN) / (HEAT_MAX - HEAT_MIN)
z = [[HEAT_LEVELS[c] for c in r.replace(" ", "").ljust(100, ".")[:100]] for r in HEAT_ROWS]
traces.append(go.Heatmap(z=z, y=HEAT_LABELS, zmin=HEAT_MIN, zmax=HEAT_MAX, xaxis="x12", yaxis="y12", hoverinfo="skip",
    colorscale=[[0, "#3A53A3"], [norm(-3), "#3A53A3"], [norm(0), "#FFFFFF"], [norm(3), "#EE2024"], [1, "#EE2024"]],
    colorbar=dict(thickness=23, thicknessmode="pixels", len=383.5, lenmode="pixels", x=px(2220), xanchor="left", y=py(1842.5), yanchor="bottom",
                  xpad=0, ypad=0, outlinewidth=0, ticks="", tickmode="array", tickvals=HEAT_TICKS,
                  tickfont=dict(family=FONT, size=27, color="black"))))
axes["xaxis12"] = dict(domain=[px(1599), px(1996)], anchor="y12", visible=False, range=[-0.5, 99.5])
axes["yaxis12"] = dict(domain=[py(2273.5), py(1130.6)], anchor="x12", side="right", type="category", autorange="reversed", tickmode="array",
    tickvals=HEAT_LABELS, ticktext=HEAT_LABELS, ticks="", showline=False, showgrid=False, zeroline=False, ticklabelstandoff=6,
    tickfont=dict(family=FONT, size=21.5, color="black"), automargin=False)
rect(1599, 1092, 1798, 1122, "#F8918B")
rect(1798, 1092, 1996, 1122, "#4BC4CF")
note("PCDS", 2005, 1107.7, 27, "left", bold=True)
note("xCell", 1797, 1057.5, 35, bold=True)
rect(2174, 1092, 2209, 1130, "#4BC4CF")
rect(2174, 1130, 2209, 1168.5, "#F8918B")
note("High", 2217, 1111.5, 27, "left")
note("Low", 2217, 1150, 27, "left")
rect(2246, 1503, 2270, 1519, "#3A53A3")

fig = go.Figure(traces)
fig.update_layout(width=W, height=H, template="none", margin=dict(l=0, r=0, t=0, b=0, pad=0), autosize=False,
                  paper_bgcolor="white", plot_bgcolor="rgba(0,0,0,0)", showlegend=False, shapes=shapes, annotations=annots,
                  font=dict(family=FONT), boxmode="overlay", **axes)
fig.write_html("out.html", config={"displayModeBar": False},
               post_script="document.body.style.margin='0';document.body.style.overflow='hidden';")
